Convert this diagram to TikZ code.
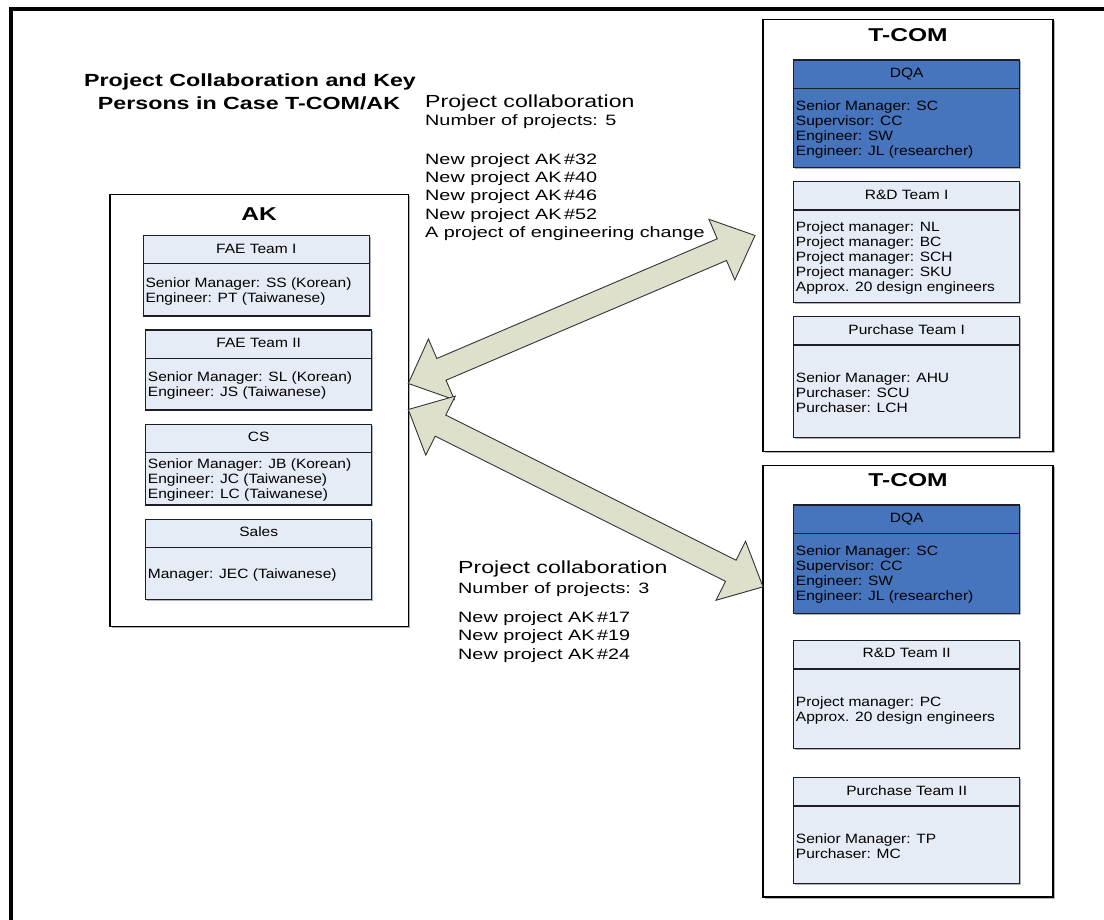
\documentclass[tikz,border=0pt]{standalone}
\usepackage{fontspec}
\setmainfont{Liberation Sans}[FakeStretch=1.15]
\newfontfamily\widefont{Liberation Sans}[FakeStretch=1.32]
\usetikzlibrary{calc,shadows}

\definecolor{teamfill}{HTML}{E6ECF6}
\definecolor{dqafill}{HTML}{4674BD}
\definecolor{flowfill}{HTML}{DEE0CC}
\definecolor{boxedge}{HTML}{1E1E28}

\tikzset{
  org/.style={draw=black, line width=1.1pt, fill=white, inner sep=0pt, outer sep=0pt,
    anchor=north west,
    drop shadow={shadow xshift=1.5pt, shadow yshift=-1.5pt, fill=black!30, opacity=1}},
  team/.style={draw=boxedge, line width=1.1pt, fill=teamfill, inner sep=0pt, outer sep=0pt,
    anchor=north west, minimum width=226pt,
    drop shadow={shadow xshift=1.2pt, shadow yshift=-1.2pt, fill=black!30, opacity=1}},
  dqa/.style={team, fill=dqafill},
  sepline/.style={draw=boxedge, line width=1.1pt},
  hdr/.style={font=\fontsize{13.5}{15.1}\selectfont, inner sep=0pt, anchor=base},
  bodytxt/.style={font=\fontsize{13.5}{15.1}\selectfont, align=left, inner sep=0pt, anchor=west},
  orgtitle/.style={font=\widefont\bfseries\fontsize{18.6}{22}\selectfont, inner sep=0pt, anchor=base},
  headline/.style={font=\widefont\bfseries\fontsize{17.6}{23}\selectfont, inner sep=0pt, anchor=base},
  collabhead/.style={font=\widefont\fontsize{17.5}{20}\selectfont, inner sep=0pt, anchor=base west},
  collabline/.style={font=\widefont\fontsize{15}{18}\selectfont, inner sep=0pt, anchor=base west},
  flow/.style={fill=flowfill, draw=black!80, line width=0.9pt, line join=miter},
  frame/.style={line width=4pt, line cap=butt, line join=miter}
}

% organisation box: name, left, top, right, bottom, title, title baseline offset
\newcommand\orgbox[7]{%
  \node[org, minimum width={(#4-#2)*1pt}, minimum height={(#5-#3)*1pt}] (#1) at (#2,#3) {};
  \node[orgtitle] (#1-t) at ({(#2+#4)/2},{#3+#7}) {#6};
}

% team box: name, style, left, top, header bottom, bottom, header, body
\newcommand\teambox[8]{%
  \node[#2, minimum height={(#6-#4)*1pt}] (#1) at (#3,#4) {};
  \draw[sepline] (#3,#5) -- ({#3+226},#5);
  \node[hdr] (#1-h) at ({#3+113},{#4+17.5}) {#7};
  \node[bodytxt] (#1-b) at ({#3+2},{(#5+#6)/2+1.5}) {#8};
}

% double-headed block arrow between two named points
\newcommand\flowarrow[2]{%
  \filldraw[flow] (#1)
    -- ($(#1)!36pt!(#2)!33pt!90:(#2)$)
    -- ($(#1)!36pt!(#2)!11.8pt!90:(#2)$)
    -- ($(#2)!36pt!(#1)!11.8pt!-90:(#1)$)
    -- ($(#2)!36pt!(#1)!33pt!-90:(#1)$)
    -- (#2)
    -- ($(#2)!36pt!(#1)!33pt!90:(#1)$)
    -- ($(#2)!36pt!(#1)!11.8pt!90:(#1)$)
    -- ($(#1)!36pt!(#2)!11.8pt!-90:(#2)$)
    -- ($(#1)!36pt!(#2)!33pt!-90:(#2)$)
    -- cycle;
}

\begin{document}
\begin{tikzpicture}[x=1pt, y=-1pt]
\useasboundingbox (0,0) rectangle (1104,920);
\fill[white] (0,0) rectangle (1104,920);

% page frame
\draw[frame] (10.8,920) -- (10.8,8.7) -- (1104,8.7);

% heading
\node[headline] (title1) at (250,87) {Project Collaboration and Key};
\node[headline] (title2) at (249,110) {Persons in Case T-COM/AK};

% AK
\orgbox{ak}{110}{194.3}{408.3}{626.7}{AK}{26.4}
\teambox{fae1}{team}{143.3}{235.7}{263.3}{316}{FAE Team I}
  {Senior Manager: SS (Korean)\\Engineer: PT (Taiwanese)}
\teambox{fae2}{team}{145.7}{330}{358.3}{410}{FAE Team II}
  {Senior Manager: SL (Korean)\\Engineer: JS (Taiwanese)}
\teambox{cs}{team}{145.7}{424.3}{452.7}{505}{CS}
  {Senior Manager: JB (Korean)\\Engineer: JC (Taiwanese)\\Engineer: LC (Taiwanese)}
\teambox{sales}{team}{145.7}{519.3}{547.3}{599.3}{Sales}
  {Manager: JEC (Taiwanese)}

% T-COM, first group
\orgbox{tcomA}{763}{19.3}{1053}{451.7}{T-COM}{22.4}
\teambox{dqaA}{dqa}{793.7}{60}{88.3}{167.7}{DQA}
  {Senior Manager: SC\\Supervisor: CC\\Engineer: SW\\Engineer: JL (researcher)}
\teambox{rdA}{team}{793.7}{181.7}{210}{302.7}{R\&D Team I}
  {Project manager: NL\\Project manager: BC\\Project manager: SCH\\Project manager: SKU\\Approx. 20 design engineers}
\teambox{purA}{team}{793.7}{316.7}{345}{437.7}{Purchase Team I}
  {Senior Manager: AHU\\Purchaser: SCU\\Purchaser: LCH}

% T-COM, second group
\orgbox{tcomB}{763}{465.7}{1053}{897}{T-COM}{21}
\teambox{dqaB}{dqa}{793.7}{505}{533.3}{613.3}{DQA}
  {Senior Manager: SC\\Supervisor: CC\\Engineer: SW\\Engineer: JL (researcher)}
\teambox{rdB}{team}{793.7}{640.3}{669}{748.3}{R\&D Team II}
  {Project manager: PC\\Approx. 20 design engineers}
\teambox{purB}{team}{793.7}{777.7}{806}{883.3}{Purchase Team II}
  {Senior Manager: TP\\Purchaser: MC}

% collaboration arrows
\coordinate (ak-up) at ([yshift=27pt]ak.east);
\coordinate (ak-dn) at ([yshift=1pt]ak.east);
\coordinate (tA-in) at ([xshift=-8pt]tcomA.west);
\coordinate (tB-in) at ([yshift=94.5pt]tcomB.west);
\flowarrow{ak-up}{tA-in}
\flowarrow{ak-dn}{tB-in}

% collaboration with the first group
\node[collabhead] (cA0) at (425,107.3) {Project collaboration};
\node[collabline] (cA1) at (425,125.7) {Number of projects: 5};
\node[collabline] (cA2) at (425,164.3) {New project AK\,\#32};
\node[collabline] (cA3) at (425,182.7) {New project AK\,\#40};
\node[collabline] (cA4) at (425,201) {New project AK\,\#46};
\node[collabline] (cA5) at (425,219.3) {New project AK\,\#52};
\node[collabline] (cA6) at (425,237.7) {A project of engineering change};

% collaboration with the second group
\node[collabhead] (cB0) at (458,573.3) {Project collaboration};
\node[collabline] (cB1) at (458,593.3) {Number of projects: 3};
\node[collabline] (cB2) at (458,622.7) {New project AK\,\#17};
\node[collabline] (cB3) at (458,640.7) {New project AK\,\#19};
\node[collabline] (cB4) at (458,659) {New project AK\,\#24};
\end{tikzpicture}
\end{document}
